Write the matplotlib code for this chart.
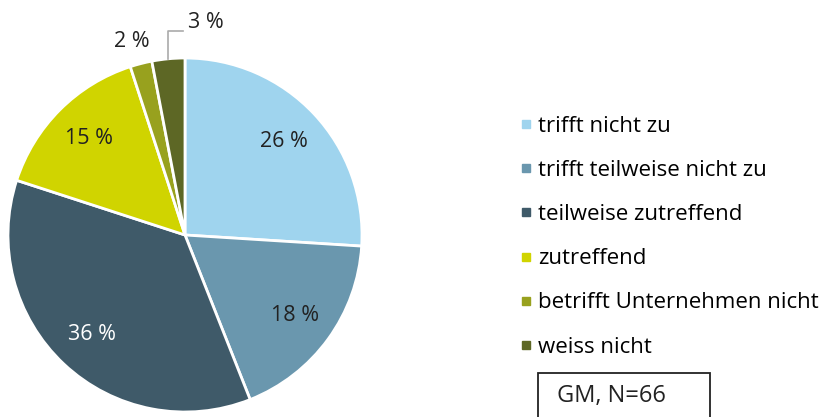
import matplotlib
matplotlib.use("Agg")
import matplotlib.pyplot as plt
import matplotlib.patches as mpatches
from matplotlib.lines import Line2D
import numpy as np

plt.rcParams["font.family"] = ["Open Sans", "DejaVu Sans"]

# data
categories = ["trifft nicht zu", "trifft teilweise nicht zu", "teilweise zutreffend",
              "zutreffend", "betrifft Unternehmen nicht", "weiss nicht"]
values = [26, 18, 36, 15, 2, 3]
colors = ["#9fd4ee", "#6a97ae", "#3f5a69", "#d0d400", "#98a11e", "#5d6725"]
label_colors = ["#222222", "#222222", "#ffffff", "#222222", "#222222", "#222222"]
note = "GM, N=66"

W, H = 828, 417
fig = plt.figure(figsize=(W / 100, H / 100), dpi=100)

cx, cy, r = 185, 235, 177
ax = fig.add_axes([(cx - r) / W, (H - cy - r) / H, 2 * r / W, 2 * r / H])
wedges, _ = ax.pie(values, colors=colors, startangle=90, counterclock=False, radius=1,
                   wedgeprops=dict(edgecolor="white", linewidth=2))
ax.set_xlim(-1, 1)
ax.set_ylim(-1, 1)
ax.set_aspect("equal")
ax.axis("off")

pct_size = 15.5
for i, w in enumerate(wedges):
    mid = np.deg2rad((w.theta1 + w.theta2) / 2)
    txt = f"{values[i]} %"
    if values[i] >= 10:
        d = 0.77
        ax.text(d * np.cos(mid), d * np.sin(mid), txt, ha="center", va="center",
                fontsize=pct_size, color=label_colors[i])
    elif i == 4:
        d = 1.13
        ax.text(d * np.cos(mid) - 0.02, d * np.sin(mid), txt, ha="center", va="center",
                fontsize=pct_size, color="#222222")
    else:
        x0, y0 = np.cos(mid), np.sin(mid)
        ax.plot([x0, x0, x0 + 0.08], [y0, 1.15, 1.15], color="#aaaaaa", lw=1.2, clip_on=False)
        ax.text(x0 + 0.11, 1.20, txt, ha="left", va="center", fontsize=pct_size, color="#222222")

handles = [Line2D([0], [0], marker="s", linestyle="none", markersize=6,
                  markerfacecolor=c, markeredgecolor=c) for c in colors]
fig.legend(handles, categories, loc="upper left", bbox_to_anchor=(519 / W, 1 - 116 / H),
           frameon=False, fontsize=16, handlelength=0.6, handletextpad=0.25,
           labelspacing=1.04, borderaxespad=0, borderpad=0)

fig.add_artist(mpatches.Rectangle((538 / W, -0.02), 172 / W, (H - 373) / H + 0.02,
                                  transform=fig.transFigure, fill=False, lw=1.3,
                                  edgecolor="#222222"))
fig.text(557 / W, 1 - 396 / H, note, ha="left", va="center", fontsize=17, color="#222222")

fig.savefig("out.png", dpi=100)
